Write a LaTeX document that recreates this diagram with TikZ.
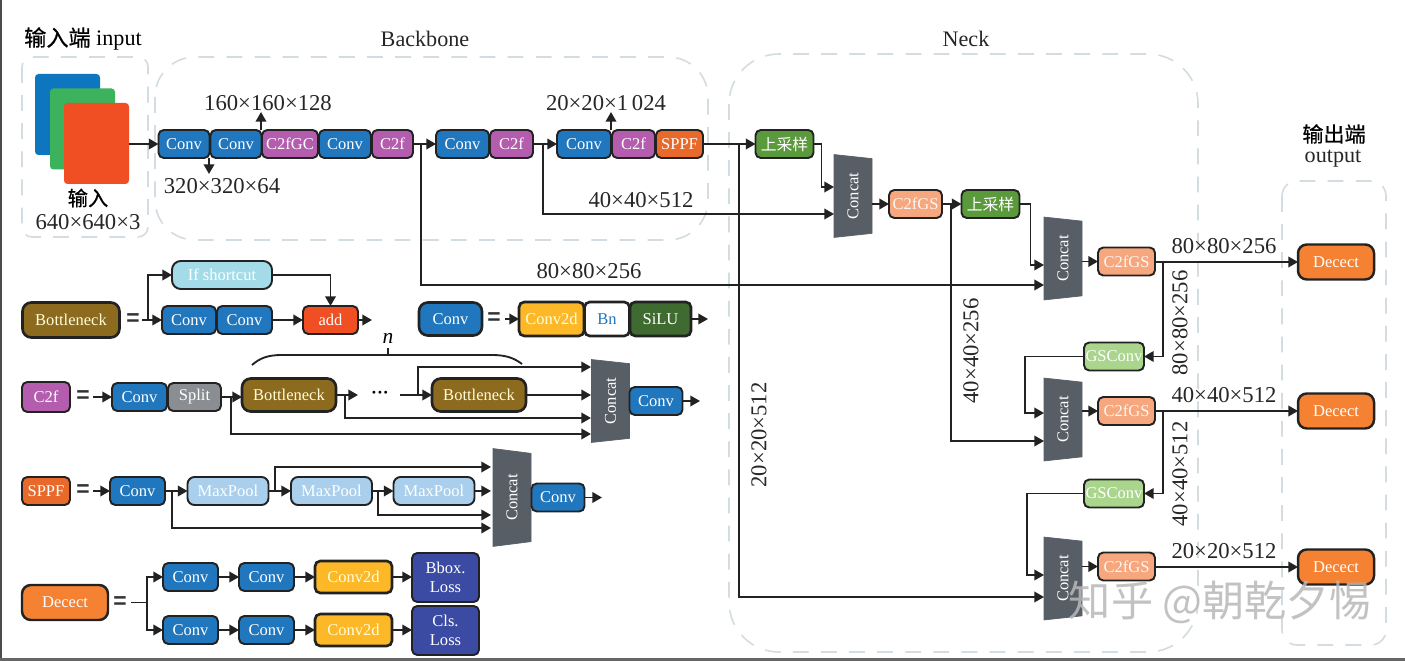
\documentclass[tikz,border=0pt]{standalone}
\usepackage{fontspec}
\setmainfont{Liberation Serif}
\newfontfamily\cjk{Noto Sans CJK SC}
\newfontfamily\cjkheavy[FakeBold=0.6]{Noto Sans CJK SC}
\newfontfamily\eqfont{Liberation Sans}
\usetikzlibrary{positioning, calc, arrows.meta, shapes.geometric}
\definecolor{convblue}{HTML}{2077BE}
\definecolor{cpurple}{HTML}{B45CAE}
\definecolor{sppforange}{HTML}{E8692A}
\definecolor{bottlebrown}{HTML}{8C6A1E}
\definecolor{ifblue}{HTML}{A3DCE8}
\definecolor{addred}{HTML}{F04E23}
\definecolor{yellowbox}{HTML}{FDB827}
\definecolor{silugreen}{HTML}{3F6A30}
\definecolor{splitgray}{HTML}{8A8D91}
\definecolor{poolblue}{HTML}{A9CFEC}
\definecolor{gsorange}{HTML}{F6A77E}
\definecolor{upgreen}{HTML}{5B9A3C}
\definecolor{gsgreen}{HTML}{A9D58C}
\definecolor{detorange}{HTML}{F58233}
\definecolor{lossblue}{HTML}{3B4BA3}
\definecolor{concatgray}{HTML}{585E66}
\definecolor{dashgray}{HTML}{D3DCE0}
\definecolor{linedark}{HTML}{222222}
\definecolor{stackblue}{HTML}{0E76BE}
\definecolor{stackgreen}{HTML}{3DB25C}
\tikzset{
    wd/.style={minimum width=#1*0.02cm},
    ht/.style={minimum height=#1*0.02cm},
    blk/.style={draw=linedark, line width=1.1pt, rounded corners=3pt, inner sep=0pt, outer sep=0pt, text=white, font=\fontsize{9.4}{11}\selectfont, align=center, ht=28},
    thickblk/.style={blk, line width=1.5pt},
    conv/.style={blk, fill=convblue, wd=53},
    cf/.style={blk, fill=cpurple},
    gs/.style={blk, fill=gsorange, wd=57, text=white!90!gsorange},
    ups/.style={blk, fill=upgreen, wd=58, font=\cjk\fontsize{9}{11}\selectfont},
    gsc/.style={blk, fill=gsgreen, wd=60},
    det/.style={blk, fill=detorange, wd=76, ht=35, line width=1.4pt, rounded corners=5pt},
    pool/.style={blk, fill=poolblue, wd=81, rounded corners=4pt},
    bneck/.style={thickblk, fill=bottlebrown, text=white!85!yellow, ht=33, rounded corners=5pt},
    yel/.style={thickblk, fill=yellowbox, text=white!85!yellow},
    loss/.style={blk, fill=lossblue, wd=67, ht=49},
    concatbox/.style={trapezium, trapezium stretches=true, trapezium angle=77, shape border rotate=180, rotate=90, fill=concatgray, draw=concatgray, inner sep=0pt, outer sep=0pt, text=white, font=\fontsize{9.4}{11}\selectfont, minimum width=83*0.02cm, minimum height=38*0.02cm},
    dim/.style={inner sep=0pt, font=\fontsize{12.9}{14}\selectfont, text=black!85},
    eqs/.style={inner sep=0pt, font=\eqfont\bfseries\fontsize{13}{13}\selectfont, text=black!80},
    group/.style={draw=dashgray, line width=0.9pt, dash pattern=on 9pt off 7pt, rounded corners=#1*0.02cm},
    stack/.style={inner sep=0pt, outer sep=0pt, rounded corners=2pt, wd=65, ht=81},
    arr/.style={line width=1.05pt, draw=linedark, -{Triangle[length=5.5pt,width=6pt]}},
    lin/.style={line width=1.05pt, draw=linedark},
    junct/.style={fill=linedark}
}
\begin{document}
\begin{tikzpicture}[x=0.02cm,y=-0.02cm]
                \useasboundingbox (0,0) rectangle (1405,661);
                \fill[white] (0,0) rectangle (1405,661);
                \fill[black!70] (0,0) rectangle (1.5,661);
                \fill[black!60] (0,658) rectangle (1405,661);
                \draw[group=10] (22,57) rectangle (148,237);
                \draw[group=40] (155,57) rectangle (708,240);
                \draw[group=50] (729,54) rectangle (1198,652);
                \draw[group=15] (1282,181) rectangle (1386,645);
                \node[inner sep=0pt, font=\fontsize{12.6}{14}\selectfont] (intitle) at (83,39) {{\cjkheavy 输入端} input};
                \node[dim, font=\fontsize{12.6}{14}\selectfont] (bbtitle) at (425,39) {Backbone};
                \node[dim, font=\fontsize{12.6}{14}\selectfont] (ntitle) at (966,39) {Neck};
                \node[inner sep=0pt, font=\cjkheavy\fontsize{12}{14}\selectfont] (outtitle) at (1334,134) {输出端};
                \node[dim, font=\fontsize{12.6}{14}\selectfont] (outtitleb) at (1333,159) {output};
                \node[stack, fill=stackblue] (inb) at (67.5,114.5) {};
                \node[stack, fill=stackgreen] (ing) at (82.5,129) {};
                \node[stack, fill=addred] (inr) at (96.5,143.5) {};
                \node[inner sep=0pt, font=\cjkheavy\fontsize{11.5}{14}\selectfont] (inlab) at (88,198) {输入};
                \node[dim] (insize) at (88,222) {640×640×3};
                \node[conv, wd=51] (c1) at (184,144) {Conv};
                \node[conv, wd=51] (c2) at (236,144) {Conv};
                \node[cf, wd=56] (c3) at (290,144) {C2fGC};
                \node[conv, wd=52] (c4) at (345,144) {Conv};
                \node[cf, wd=41] (c5) at (392.5,144) {C2f};
                \node[conv] (c6) at (462.5,144) {Conv};
                \node[cf, wd=43] (c7) at (511.5,144) {C2f};
                \node[conv, wd=54] (c8) at (584,144) {Conv};
                \node[cf, wd=43] (c9) at (633.5,144) {C2f};
                \node[blk, fill=sppforange, wd=47] (c10) at (679.5,144) {SPPF};
                \node[dim] (l160) at (268,103) {160×160×128};
                \node[dim] (l320) at (222,186) {320×320×64};
                \node[dim] (l20) at (606,103) {20×20×1\,024};
                \node[dim] (l40) at (641,200) {40×40×512};
                \node[dim] (l80) at (589,271) {80×80×256};
                \coordinate (c1top) at (261,130);
                \coordinate (up160) at (261,112);
                \coordinate (c1bot) at (209,158);
                \coordinate (dn320) at (209,174);
                \coordinate (c8top) at (611,130);
                \coordinate (up20) at (611,112);
                \draw[arr] (c1top) -- (up160);
                \draw[arr] (c1bot) -- (dn320);
                \draw[arr] (c8top) -- (up20);
                \draw[arr] (inr.east |- c1.west) -- (c1.west);
                \draw[arr] (c5.east) -- (c6.west);
                \draw[arr] (c7.east) -- (c8.west);
                \node[ups] (u1) at (784.5,144) {上采样};
                \node[concatbox] (k1) at (853,196) {Concat};
                \node[gs, wd=53] (g1) at (915.5,204) {C2fGS};
                \node[ups] (u2) at (990.5,204) {上采样};
                \node[concatbox] (k2) at (1063,258.5) {Concat};
                \node[gs] (g2) at (1126.5,261.5) {C2fGS};
                \node[det] (d1) at (1336,262) {Decect};
                \node[gsc] (s1) at (1114,356.5) {GSConv};
                \node[concatbox] (k3) at (1063,419.5) {Concat};
                \node[gs] (g3) at (1126.5,411) {C2fGS};
                \node[det] (d2) at (1336,411) {Decect};
                \node[gsc] (s2) at (1114,493.5) {GSConv};
                \node[concatbox] (k4) at (1063,578.5) {Concat};
                \node[gs] (g4) at (1126.5,566.5) {C2fGS};
                \node[det] (d3) at (1336,567) {Decect};
                \coordinate (ka1) at (834,187);
                \coordinate (kb1) at (834,214);
                \coordinate (ka2) at (1044,265);
                \coordinate (kb2) at (1044,285);
                \coordinate (ka3) at (1044,413);
                \coordinate (kb3) at (1044,441);
                \coordinate (ka4) at (1044,575);
                \coordinate (kb4) at (1044,597);
                \coordinate (ko1) at (872,204);
                \coordinate (ko2) at (1082,261.5);
                \coordinate (ko3) at (1082,411);
                \coordinate (ko4) at (1082,566.5);
                \coordinate (j1) at (421,144);
                \coordinate (j2) at (543,144);
                \coordinate (j3) at (739,144);
                \coordinate (j4) at (951,204);
                \coordinate (j5) at (1163,262);
                \coordinate (j6) at (1163,411);
                \draw[arr] (c10.east) -- (u1.west);
                \draw[arr] (u1.east) -- ++(8,0) |- (ka1);
                \draw[arr] (j2) |- (kb1);
                \draw[arr] (j1) |- (kb2);
                \draw[arr] (j3) |- (kb4);
                \draw[arr] (ko1) -- (g1.west);
                \draw[arr] (g1.east) -- (u2.west);
                \draw[arr] (u2.east) -- ++(11,0) |- (ka2);
                \draw[arr] (j4) |- (kb3);
                \draw[arr] (ko2) -- (g2.west);
                \draw[arr] (g2.east |- d1.west) -- (d1.west);
                \draw[arr] (j5) |- (s1.east);
                \draw[arr] (s1.west) -- ++(-59,0) |- (ka3);
                \draw[arr] (ko3) -- (g3.west);
                \draw[arr] (g3.east) -- (d2.west);
                \draw[arr] (j6) |- (s2.east);
                \draw[arr] (s2.west) -- ++(-57,0) |- (ka4);
                \draw[arr] (ko4) -- (g4.west);
                \draw[arr] (g4.east |- d3.west) -- (d3.west);
                \fill[junct] (j3 |- kb1) circle (1.8);
                \fill[junct] (j3 |- kb2) circle (1.8);
                \fill[junct] (j4 |- kb2) circle (1.8);
                \node[dim] (n80) at (1224,246) {80×80×256};
                \node[dim] (n40) at (1224,395) {40×40×512};
                \node[dim] (n20) at (1224,551) {20×20×512};
                \node[dim, rotate=90] (v80) at (1180,323) {80×80×256};
                \node[dim, rotate=90] (v40) at (1180,474) {40×40×512};
                \node[dim, rotate=90] (v4096) at (971,351) {40×40×256};
                \node[dim, rotate=90] (v20) at (759,435) {20×20×512};
                \node[bneck, wd=97, ht=35] (bn) at (71,320) {Bottleneck};
                \node[eqs] (eq1) at (133,320) {=};
                \node[blk, fill=ifblue, wd=100, rounded corners=5pt] (ifs) at (222,275) {If shortcut};
                \node[conv, wd=54] (b1) at (189,320) {Conv};
                \node[conv, wd=55] (b2) at (244.5,320) {Conv};
                \node[blk, fill=addred, wd=55] (addn) at (330.5,320) {add};
                \coordinate (b0) at (142,320);
                \coordinate (bj) at (148,320);
                \coordinate (bout) at (372,320);
                \draw[arr] (b0) -- (b1.west);
                \draw[arr] (bj) |- (ifs.west);
                \draw[arr] (b2.east) -- (addn.west);
                \draw[arr] (ifs.east) -| (addn.north);
                \draw[arr] (addn.east) -- (bout);
                \node[bneck, fill=convblue, wd=63, ht=33, text=white] (cn) at (450.5,319) {Conv};
                \node[eqs] (eq2) at (494,319) {=};
                \node[yel, wd=65, ht=34] (cn1) at (551.5,319) {Conv2d};
                \node[thickblk, fill=white, text=convblue, wd=45, ht=34] (cn2) at (607,319) {Bn};
                \node[thickblk, fill=silugreen, wd=61, ht=34] (cn3) at (660.5,319) {SiLU};
                \coordinate (cn0) at (505,319);
                \coordinate (cnout) at (708,319);
                \draw[arr] (cn0) -- (cn1.west);
                \draw[arr] (cn3.east) -- (cnout);
                \node[cf, wd=48, ht=30] (cf0) at (46,397) {C2f};
                \node[eqs] (eq3) at (83,397) {=};
                \node[conv, wd=55] (cf1) at (139.5,397) {Conv};
                \node[blk, fill=splitgray, wd=53] (cf2) at (194.5,397) {Split};
                \node[bneck, wd=94] (cf3) at (289,395) {Bottleneck};
                \node[bneck, wd=94] (cf4) at (479,395) {Bottleneck};
                \node[inner sep=0pt, font=\bfseries\fontsize{10}{10}\selectfont] (cfdots) at (380,395) {···};
                \node[concatbox] (k5) at (610.5,401) {Concat};
                \node[conv] (cf5) at (656,401) {Conv};
                \coordinate (cf00) at (93,397);
                \coordinate (cfm) at (358,395);
                \coordinate (cfn) at (400,395);
                \coordinate (cfj) at (418,395);
                \coordinate (cfj2) at (345,395);
                \coordinate (cfj3) at (231,397);
                \coordinate (cfout) at (700,401);
                \coordinate (cfa) at (591,367);
                \coordinate (cfb) at (591,395);
                \coordinate (cfc) at (591,418);
                \coordinate (cfd) at (591,434);
                \draw[arr] (cf00) -- (cf1.west);
                \draw[arr] (cf2.east) -- (cf3.west |- cf2.east);
                \draw[arr] (cf3.east) -- (cfm);
                \draw[arr] (cfn) -- (cf4.west);
                \draw[arr] (cfj) |- (cfa);
                \draw[arr] (cf4.east) -- (cfb);
                \draw[arr] (cfj2) |- (cfc);
                \draw[arr] (cfj3) |- (cfd);
                \draw[arr] (cf5.east) -- (cfout);
                \draw[lin] (252,365) .. controls (260,358) and (268,355) .. (282,355) -- (492,355) .. controls (506,355) and (514,358) .. (522,364);
                \draw[lin] (388,355) -- (388,348);
                \node[inner sep=0pt, font=\itshape\fontsize{12.2}{14}\selectfont] (cfn2) at (388,338) {n};
                \node[blk, fill=sppforange, wd=48] (sp0) at (46,491) {SPPF};
                \node[eqs] (eq4) at (83,491) {=};
                \node[conv, wd=55] (sp1) at (137.5,491) {Conv};
                \node[pool] (sp2) at (228,491) {MaxPool};
                \node[pool] (sp3) at (331.5,491) {MaxPool};
                \node[pool] (sp4) at (434,491) {MaxPool};
                \node[concatbox, minimum width=98*0.02cm] (k6) at (512,497.5) {Concat};
                \node[conv] (sp5) at (558,497.5) {Conv};
                \coordinate (sp00) at (93,491);
                \coordinate (spout) at (602,497.5);
                \coordinate (spa) at (491,467);
                \coordinate (spb) at (491,491);
                \coordinate (spc) at (491,515);
                \coordinate (spd) at (491,528);
                \coordinate (spj1) at (275,491);
                \coordinate (spj2) at (378,491);
                \coordinate (spj3) at (172,491);
                \draw[arr] (sp00) -- (sp1.west);
                \draw[arr] (sp1.east) -- (sp2.west);
                \draw[arr] (sp2.east) -- (sp3.west);
                \draw[arr] (sp3.east) -- (sp4.west);
                \draw[arr] (sp4.east) -- (spb);
                \draw[arr] (spj1) |- (spa);
                \draw[arr] (spj2) |- (spc);
                \draw[arr] (spj3) |- (spd);
                \draw[arr] (sp5.east) -- (spout);
                \node[det, wd=86, ht=35] (dt0) at (65,602.5) {Decect};
                \node[eqs] (eq5) at (120,602.5) {=};
                \node[conv, wd=55] (dt1) at (190.5,577) {Conv};
                \node[conv, wd=55] (dt2) at (266.5,577) {Conv};
                \node[yel, wd=77, ht=32] (dt3) at (353.5,577) {Conv2d};
                \node[loss] (dt4) at (445.5,577.5) {Bbox.\\Loss};
                \node[conv, wd=55] (dt5) at (190.5,630) {Conv};
                \node[conv, wd=55] (dt6) at (266.5,630) {Conv};
                \node[yel, wd=77, ht=32] (dt7) at (353.5,630) {Conv2d};
                \node[loss] (dt8) at (445.5,630.5) {Cls.\\Loss};
                \coordinate (dt00) at (131,602.5);
                \coordinate (dtj) at (147,602.5);
                \draw[lin] (dt00) -- (dtj);
                \draw[arr] (dtj) |- (dt1.west);
                \draw[arr] (dtj) |- (dt5.west);
                \draw[arr] (dt1.east) -- (dt2.west);
                \draw[arr] (dt2.east) -- (dt3.west);
                \draw[arr] (dt3.east) -- (dt4.west |- dt3.east);
                \draw[arr] (dt5.east) -- (dt6.west);
                \draw[arr] (dt6.east) -- (dt7.west);
                \draw[arr] (dt7.east) -- (dt8.west |- dt7.east);
                \node[inner sep=0pt, text=black!28, opacity=0.85, font=\cjk\fontsize{24}{26}\selectfont] (wm) at (1220,602) {知乎 @朝乾夕惕};
            \end{tikzpicture}
\end{document}
